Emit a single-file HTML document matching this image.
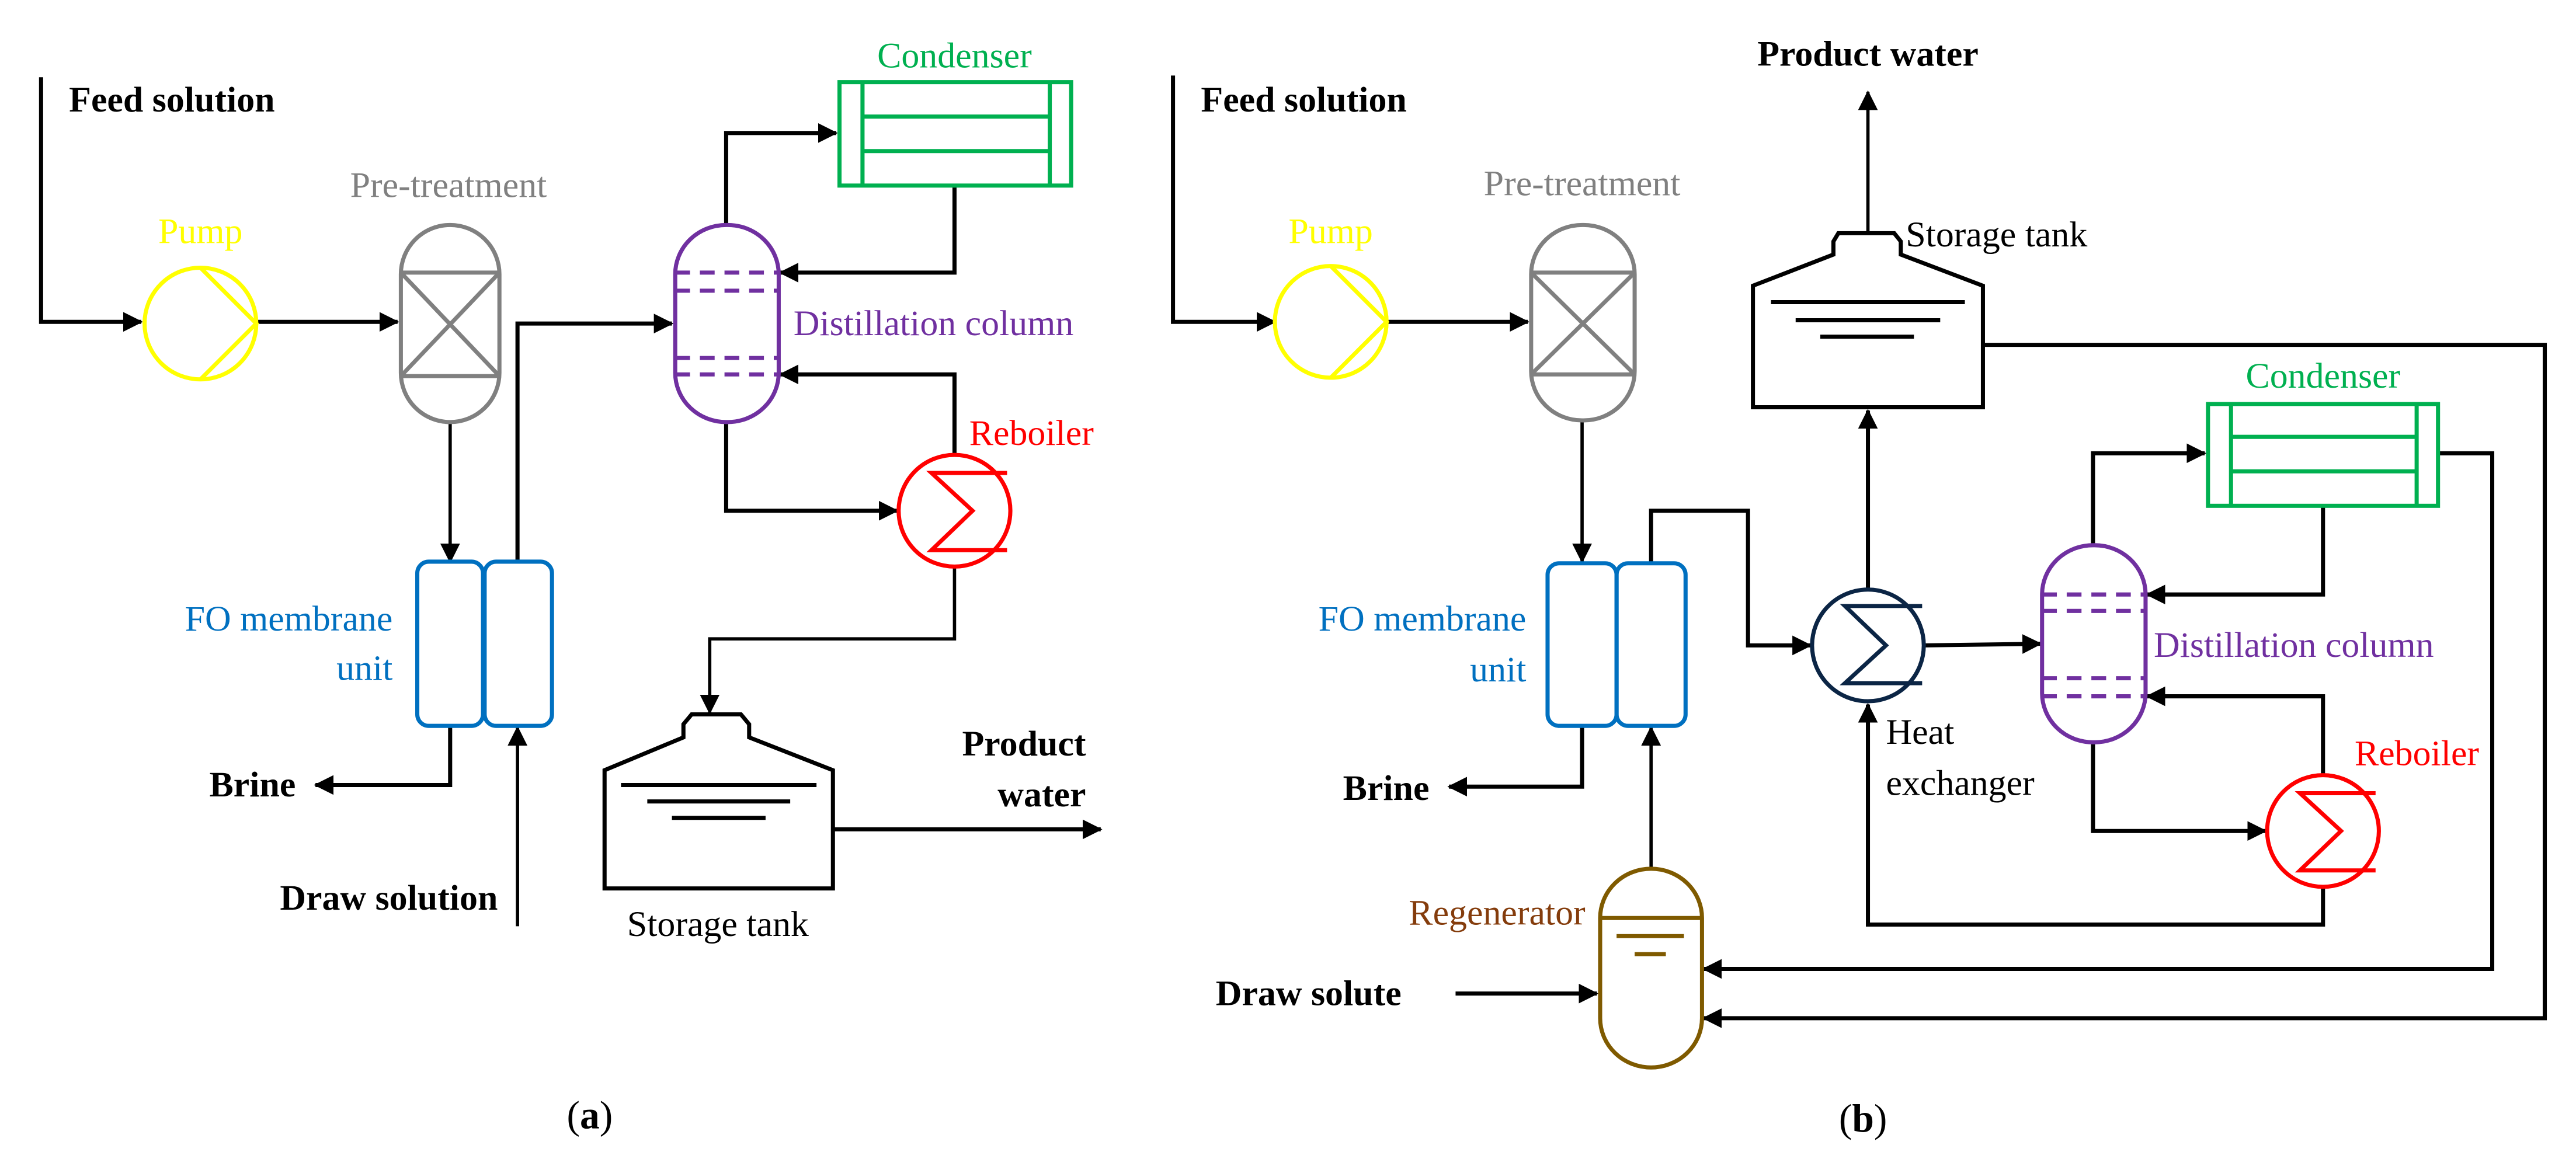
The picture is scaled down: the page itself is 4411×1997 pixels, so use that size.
<!DOCTYPE html>
<html><head><meta charset="utf-8"><style>
html,body{margin:0;padding:0;background:#fff;}
svg{display:block;}
svg text{font-family:"Liberation Serif","DejaVu Serif","Times New Roman",Times,serif !important;font-size:22px;}
.b{font-weight:bold;}
</style></head><body>
<svg width="4411" height="1997" viewBox="0 0 1568 710" preserveAspectRatio="none" xmlns="http://www.w3.org/2000/svg" font-family="Liberation Serif, DejaVu Serif, serif">
<defs>
<marker id="a" markerWidth="12" markerHeight="12" refX="11" refY="6" orient="auto" markerUnits="userSpaceOnUse">
<path d="M0,0 L12,6 L0,12 z" fill="#000"/></marker>
</defs>
<g fill="none" stroke="#000" stroke-width="2.5">
<polyline points="25,47 25,196 86,196" marker-end="url(#a)"/>
<polyline points="156,196 242,196" marker-end="url(#a)"/>
<polyline points="274,257 274,342" marker-end="url(#a)" stroke-width="2"/>
<polyline points="315,342 315,197 409,197" marker-end="url(#a)"/>
<polyline points="442,137 442,81 509,81" marker-end="url(#a)"/>
<polyline points="581,113 581,166 475,166" marker-end="url(#a)"/>
<polyline points="581,277 581,228 475,228" marker-end="url(#a)"/>
<polyline points="442,257 442,311 546,311" marker-end="url(#a)"/>
<polyline points="581,346 581,389 432,389 432,434" marker-end="url(#a)" stroke-width="2"/>
<polyline points="274,442 274,478 192,478" marker-end="url(#a)"/>
<polyline points="315,564 315,443" marker-end="url(#a)" stroke-width="2"/>
<polyline points="507,505 670,505" marker-end="url(#a)"/>
<path d="M421,435 L451,435 L456,441 L456,449 L507,469 L507,541 L368,541 L368,469 L416,449 L416,441 Z"/>
<line x1="378" y1="478" x2="497" y2="478"/><line x1="394" y1="488" x2="481" y2="488"/><line x1="409" y1="498" x2="466" y2="498"/>

<polyline points="714,46 714,196 776,196" marker-end="url(#a)"/>
<polyline points="844,196 930,196" marker-end="url(#a)"/>
<polyline points="963,256 963,342" marker-end="url(#a)" stroke-width="2"/>
<polyline points="963,442 963,479 882,479" marker-end="url(#a)"/>
<polyline points="1005,343 1005,311 1064,311 1064,393 1102,393" marker-end="url(#a)"/>
<polyline points="1137,359 1137,250" marker-end="url(#a)"/>
<polyline points="1137,142 1137,56" marker-end="url(#a)" stroke-width="2"/>
<polyline points="1171,393 1242,392" marker-end="url(#a)"/>
<polyline points="1274,332 1274,276 1342,276" marker-end="url(#a)"/>
<polyline points="1414,308 1414,362 1307,362" marker-end="url(#a)"/>
<polyline points="1414,472 1414,424 1307,424" marker-end="url(#a)"/>
<polyline points="1274,452 1274,506 1379,506" marker-end="url(#a)"/>
<polyline points="1414,540 1414,563 1137,563 1137,429" marker-end="url(#a)"/>
<polyline points="1207,210 1549,210 1549,620 1037,620" marker-end="url(#a)"/>
<polyline points="1484,276 1517,276 1517,590 1037,590" marker-end="url(#a)"/>
<polyline points="1005,529 1005,443" marker-end="url(#a)" stroke-width="2"/>
<polyline points="886,605 972,605" marker-end="url(#a)"/>
<path d="M1119,142 L1153,142 L1157,147 L1157,155 L1207,174 L1207,248 L1067,248 L1067,174 L1116,155 L1116,147 Z"/>
<line x1="1078" y1="184" x2="1196" y2="184"/><line x1="1093" y1="195" x2="1181" y2="195"/><line x1="1108" y1="205" x2="1165" y2="205"/>
</g>

<g fill="none" stroke="#ffff00" stroke-width="2.5">
<circle cx="122" cy="197" r="34"/><polyline points="122,163 156,197 122,231"/>
<circle cx="810" cy="196" r="34"/><polyline points="810,162 844,196 810,230"/>
</g>
<g fill="none" stroke="#808080" stroke-width="2.5">
<rect x="244" y="137" width="60" height="120" rx="30" ry="30"/>
<line x1="244" y1="166" x2="304" y2="166"/><line x1="244" y1="229" x2="304" y2="229"/>
<line x1="244" y1="166" x2="304" y2="229"/><line x1="304" y1="166" x2="244" y2="229"/>
<rect x="932" y="137" width="63" height="119" rx="31" ry="30"/>
<line x1="932" y1="166" x2="995" y2="166"/><line x1="932" y1="228" x2="995" y2="228"/>
<line x1="932" y1="166" x2="995" y2="228"/><line x1="995" y1="166" x2="932" y2="228"/>
</g>
<g fill="none" stroke="#7030a0" stroke-width="2.5">
<rect x="411" y="137" width="63" height="120" rx="31" ry="30"/>
<g stroke-dasharray="9,6"><line x1="411" y1="166" x2="474" y2="166"/><line x1="411" y1="177" x2="474" y2="177"/><line x1="411" y1="218" x2="474" y2="218"/><line x1="411" y1="228" x2="474" y2="228"/></g>
<rect x="1243" y="332" width="63" height="120" rx="31" ry="30"/>
<g stroke-dasharray="9,6"><line x1="1243" y1="362" x2="1306" y2="362"/><line x1="1243" y1="372" x2="1306" y2="372"/><line x1="1243" y1="413" x2="1306" y2="413"/><line x1="1243" y1="424" x2="1306" y2="424"/></g>
</g>
<g fill="none" stroke="#00b050" stroke-width="2.5">
<rect x="511" y="50" width="141" height="63"/><line x1="525" y1="50" x2="525" y2="113"/><line x1="639" y1="50" x2="639" y2="113"/>
<line x1="525" y1="71" x2="639" y2="71"/><line x1="525" y1="92" x2="639" y2="92"/>
<rect x="1344" y="246" width="140" height="62"/><line x1="1358" y1="246" x2="1358" y2="308"/><line x1="1471" y1="246" x2="1471" y2="308"/>
<line x1="1358" y1="266" x2="1471" y2="266"/><line x1="1358" y1="287" x2="1471" y2="287"/>
</g>
<g fill="none" stroke="#ff0000" stroke-width="2.5">
<circle cx="581" cy="311" r="34"/><polyline points="613,288 567,288 592,311 567,335 613,335"/>
<circle cx="1414" cy="506" r="34"/><polyline points="1446,483 1400,483 1425,506 1400,530 1446,530"/>
</g>
<g fill="none" stroke="#0b2545" stroke-width="2.5">
<circle cx="1137" cy="393" r="34"/><polyline points="1170,369 1123,369 1148,393 1123,416 1170,416"/>
</g>
<g fill="none" stroke="#0070c0" stroke-width="2.5">
<rect x="254" y="342" width="40" height="100" rx="7"/><rect x="295" y="342" width="41" height="100" rx="7"/>
<rect x="942" y="343" width="42" height="99" rx="7"/><rect x="984" y="343" width="42" height="99" rx="7"/>
</g>
<g fill="none" stroke="#7f5a00" stroke-width="2.5">
<rect x="974" y="529" width="62" height="121" rx="31" ry="30"/>
<line x1="974" y1="559" x2="1036" y2="559"/><line x1="984" y1="570" x2="1025" y2="570"/><line x1="995" y1="581" x2="1014" y2="581"/>
</g>

<g font-family="Liberation Serif, DejaVu Serif, serif" font-size="22">
<text x="42" y="68" class="b">Feed solution</text>
<text x="122" y="148" fill="#ffff00" text-anchor="middle">Pump</text>
<text x="273" y="120" fill="#808080" text-anchor="middle">Pre-treatment</text>
<text x="581" y="41" fill="#00b050" text-anchor="middle">Condenser</text>
<text x="483" y="204" fill="#7030a0">Distillation column</text>
<text x="590" y="271" fill="#ff0000">Reboiler</text>
<text x="239" y="384" fill="#0070c0" text-anchor="end">FO membrane</text>
<text x="239" y="414" fill="#0070c0" text-anchor="end">unit</text>
<text x="180" y="485" class="b" text-anchor="end">Brine</text>
<text x="303" y="554" class="b" text-anchor="end">Draw solution</text>
<text x="661" y="460" class="b" text-anchor="end">Product</text>
<text x="661" y="491" class="b" text-anchor="end">water</text>
<text x="437" y="570" text-anchor="middle">Storage tank</text>
<text x="359" y="687" text-anchor="middle" style="font-size:24px">(<tspan font-weight="bold">a</tspan>)</text>
<text x="731" y="68" class="b">Feed solution</text>
<text x="810" y="148" fill="#ffff00" text-anchor="middle">Pump</text>
<text x="963" y="119" fill="#808080" text-anchor="middle">Pre-treatment</text>
<text x="1137" y="40" class="b" text-anchor="middle">Product water</text>
<text x="1160" y="150">Storage tank</text>
<text x="1414" y="236" fill="#00b050" text-anchor="middle">Condenser</text>
<text x="1311" y="400" fill="#7030a0">Distillation column</text>
<text x="1509" y="466" fill="#ff0000" text-anchor="end">Reboiler</text>
<text x="1148" y="453">Heat</text>
<text x="1148" y="484">exchanger</text>
<text x="929" y="384" fill="#0070c0" text-anchor="end">FO membrane</text>
<text x="929" y="415" fill="#0070c0" text-anchor="end">unit</text>
<text x="870" y="487" class="b" text-anchor="end">Brine</text>
<text x="965" y="563" fill="#843c0c" text-anchor="end">Regenerator</text>
<text x="740" y="612" class="b">Draw solute</text>
<text x="1134" y="689" text-anchor="middle" style="font-size:24px">(<tspan font-weight="bold">b</tspan>)</text>
</g>
</svg>
</body></html>
